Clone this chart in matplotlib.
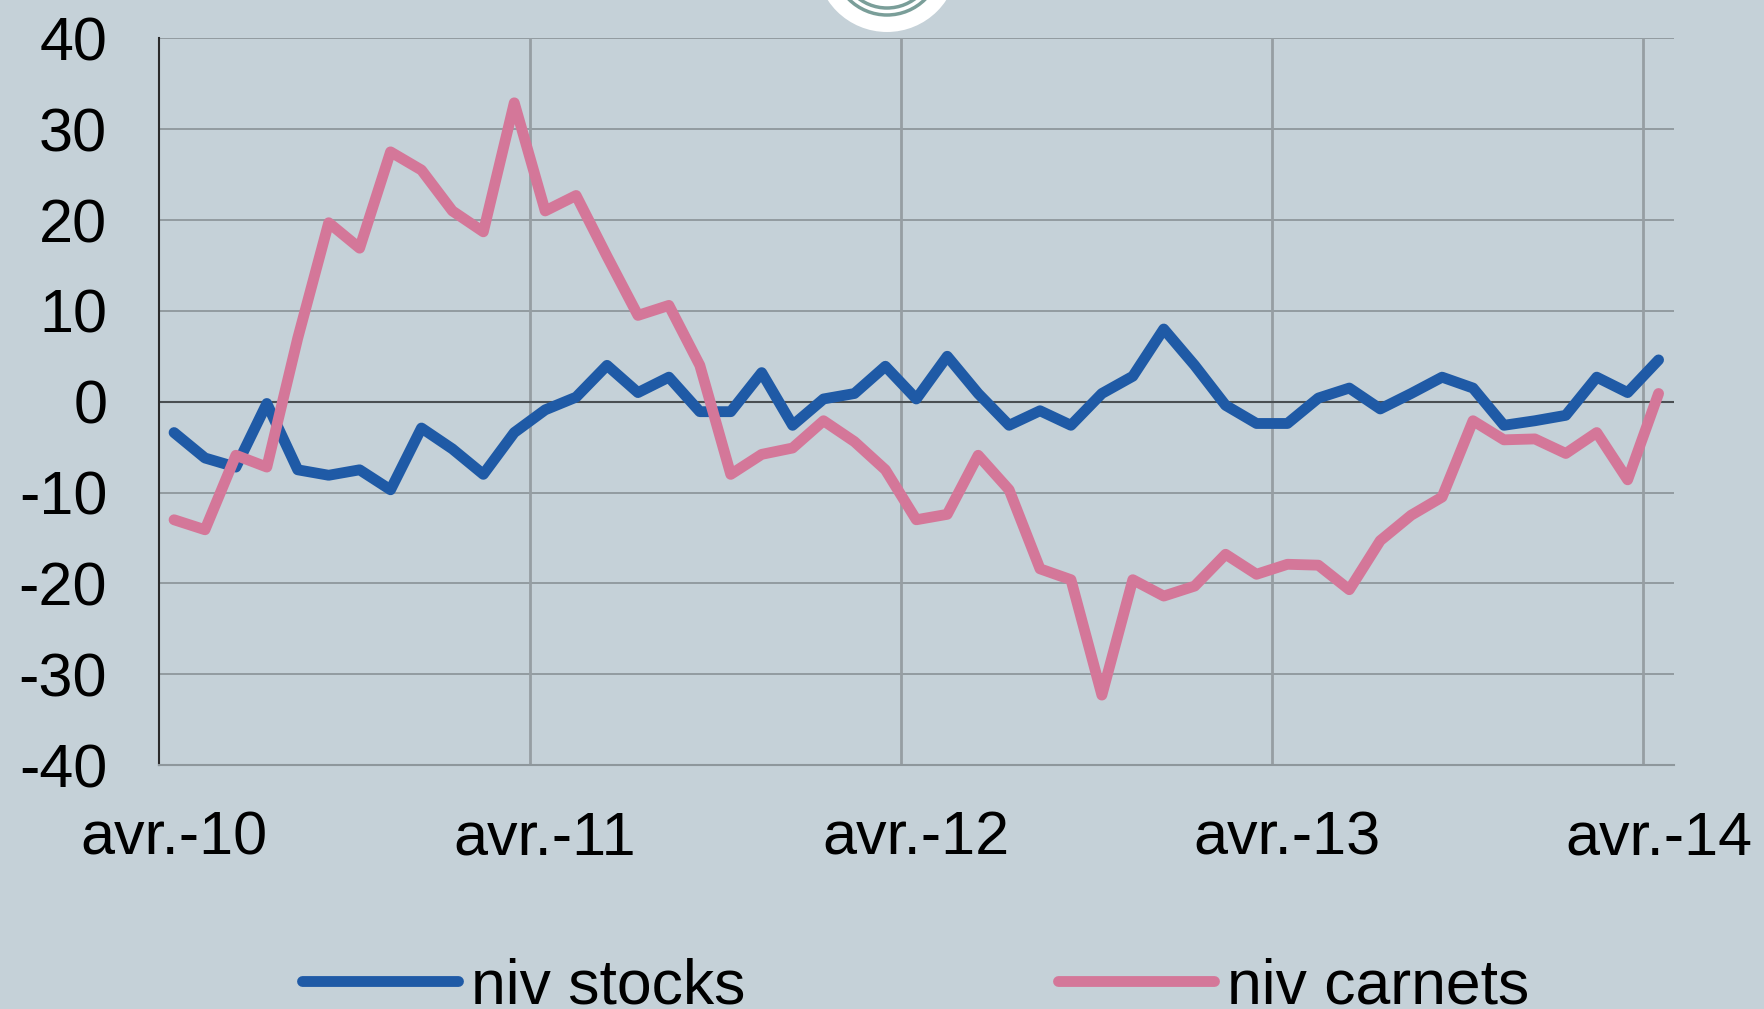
import matplotlib
matplotlib.use("Agg")
import matplotlib.pyplot as plt
from matplotlib.patches import Ellipse
import numpy as np

# niv stocks / niv carnets, mensuel avr.-10 -> avr.-14
mois = np.arange(49)
niv_stocks = [-3.4, -6.2, -7.2, -0.2, -7.5, -8.1, -7.5, -9.7, -2.9, -5.2, -8.0, -3.4, -0.9,
              0.5, 4.0, 1.0, 2.7, -1.1, -1.1, 3.2, -2.6, 0.3, 0.9, 3.9, 0.3, 5.0,
              0.9, -2.6, -1.0, -2.6, 0.9, 2.8, 8.0, 4.0, -0.4, -2.4, -2.4, 0.4, 1.5,
              -0.8, 0.9, 2.7, 1.5, -2.6, -2.1, -1.5, 2.7, 1.0, 4.6]
niv_carnets = [-13.0, -14.1, -5.9, -7.2, 7.0, 19.7, 16.9, 27.5, 25.5, 21.0, 18.7, 32.9, 21.0,
               22.7, 16.0, 9.5, 10.6, 4.0, -8.0, -5.8, -5.1, -2.1, -4.4, -7.5, -13.0, -12.4,
               -5.9, -9.7, -18.4, -19.6, -32.3, -19.6, -21.4, -20.3, -16.8, -19.0, -17.9, -18.0, -20.7,
               -15.3, -12.5, -10.5, -2.1, -4.2, -4.1, -5.7, -3.4, -8.6, 0.9]
pos_labels = [0, 12, 24, 36, 48]
labels = ["avr.-10", "avr.-11", "avr.-12", "avr.-13", "avr.-14"]

fond = "#C5D1D8"
plt.rcParams['font.family'] = ['Liberation Sans', 'DejaVu Sans']
plt.rcParams['axes.unicode_minus'] = False

fig = plt.figure(figsize=(17.64, 10.09), dpi=100, facecolor=fond)
ax = fig.add_axes([0.0899, 0.2418, 0.8591, 0.7202])
ax.set_facecolor(fond)

# petit logo coupé en haut
cx, cy = 887 / 1764, 1 + 39 / 1009
fig.patches.append(Ellipse((cx, cy), 2 * 71 / 1764, 2 * 71 / 1009, transform=fig.transFigure,
                           facecolor="white", edgecolor="none", zorder=0))
for r in (47, 54):
    fig.patches.append(Ellipse((cx, cy), 2 * r / 1764, 2 * r / 1009, transform=fig.transFigure,
                               facecolor="none", edgecolor="#7A9E99", lw=2.5, zorder=1))

for y in range(-30, 41, 10):
    if y != 0:
        ax.axhline(y, color="#8E979C", lw=1.3, zorder=1)
for x in (11.5, 23.5, 35.5, 47.5):
    ax.axvline(x, color="#969EA3", lw=2, zorder=1)
ax.axhline(0, color="#4A4F52", lw=1.5, zorder=2)

ax.plot(mois, niv_stocks, color="#1F5AA6", lw=7.8, solid_capstyle="round",
        solid_joinstyle="round", label="niv stocks", zorder=3)
ax.plot(mois, niv_carnets, color="#D47799", lw=7.8, solid_capstyle="round",
        solid_joinstyle="round", label="niv carnets", zorder=4)

ax.set_xlim(-0.5, 48.5)
ax.set_ylim(-40, 40)
ax.set_yticks(range(-40, 41, 10))
ax.set_xticks(pos_labels)
ax.set_xticklabels(labels)
ax.tick_params(axis="both", length=0)
ax.tick_params(axis="y", pad=37, labelsize=44)
ax.tick_params(axis="x", pad=33, labelsize=44)

for s in ("top", "right"):
    ax.spines[s].set_visible(False)
ax.spines["left"].set_color("#2A2A2A")
ax.spines["left"].set_linewidth(1.5)
ax.spines["bottom"].set_color("#8E979C")
ax.spines["bottom"].set_linewidth(1.5)

fig.legend(loc="center", bbox_to_anchor=(0.519, 0.022), ncol=2, frameon=False,
           fontsize=45, handlelength=2.5, handletextpad=0.2, columnspacing=5.0)

fig.savefig("out.png", dpi=100, facecolor=fond)
